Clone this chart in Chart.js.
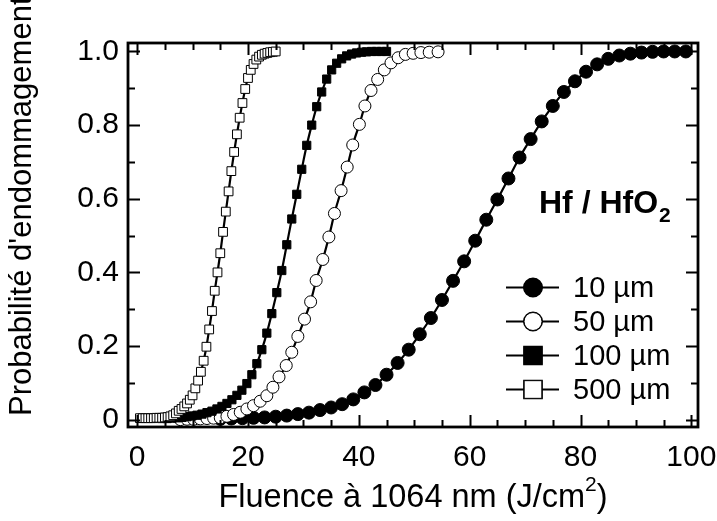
<!DOCTYPE html>
<html>
<head>
<meta charset="utf-8">
<script src="https://cdn.jsdelivr.net/npm/chart.js@4.4.1/dist/chart.umd.min.js"></script>
<style>
  html, body { margin: 0; padding: 0; background: #fff; }
  #wrap { width: 717px; height: 521px; }
</style>
</head>
<body>
<div id="wrap"><canvas id="damageChart" width="717" height="521"></canvas></div>
<script>
// series (fluence in J/cm2, damage probability)
const seriesLabels = ['10 µm', '50 µm', '100 µm', '500 µm'];

const fluence10 = [15, 17, 19, 21, 23, 25, 27, 29, 31, 33, 35, 37, 39, 41, 43, 45, 47, 49, 51, 53, 55, 57, 59, 61, 63, 65, 67, 69, 71, 73, 75, 77, 79, 81, 83, 85, 87, 89, 91, 93, 95, 97, 99];
const prob10 = [0.002, 0.003, 0.004, 0.005, 0.006, 0.008, 0.011, 0.015, 0.019, 0.026, 0.033, 0.042, 0.055, 0.074, 0.094, 0.122, 0.154, 0.190, 0.232, 0.276, 0.325, 0.377, 0.430, 0.486, 0.543, 0.598, 0.655, 0.712, 0.762, 0.810, 0.852, 0.890, 0.919, 0.945, 0.965, 0.980, 0.989, 0.994, 0.997, 0.999, 1.000, 1.000, 1.000];

const fluence50 = [7.8, 9.0, 10.2, 11.4, 12.6, 13.8, 15.0, 16.2, 17.4, 18.6, 19.8, 21.0, 22.2, 23.4, 24.5, 25.6, 26.9, 27.9, 29.0, 30.2, 31.3, 32.3, 33.5, 34.6, 35.6, 36.8, 37.9, 38.9, 40.1, 41.1, 42.2, 43.4, 44.6, 45.8, 47.1, 48.4, 49.8, 51.2, 52.7, 54.3];
const prob50 = [0.000, 0.001, 0.001, 0.002, 0.003, 0.004, 0.005, 0.009, 0.014, 0.020, 0.029, 0.038, 0.050, 0.065, 0.088, 0.116, 0.147, 0.183, 0.226, 0.273, 0.320, 0.378, 0.435, 0.496, 0.560, 0.622, 0.686, 0.746, 0.802, 0.852, 0.894, 0.924, 0.950, 0.969, 0.983, 0.992, 0.995, 0.997, 0.998, 0.999];

const fluence100 = [4.5, 5.4, 6.3, 7.2, 8.1, 9.0, 9.9, 10.8, 11.7, 12.6, 13.5, 14.4, 15.3, 16.2, 17.1, 18.0, 18.9, 19.8, 20.7, 21.6, 22.5, 23.4, 24.3, 25.2, 26.1, 27.0, 27.9, 28.8, 29.7, 30.6, 31.5, 32.4, 33.3, 34.2, 35.1, 36.0, 36.9, 37.8, 38.7, 39.6, 40.5, 41.4, 42.3, 43.2, 44.1, 45.0];
const prob100 = [0.003, 0.003, 0.004, 0.005, 0.006, 0.008, 0.010, 0.012, 0.015, 0.019, 0.023, 0.029, 0.036, 0.044, 0.054, 0.066, 0.080, 0.098, 0.122, 0.152, 0.190, 0.235, 0.288, 0.345, 0.405, 0.475, 0.545, 0.612, 0.680, 0.745, 0.800, 0.850, 0.890, 0.925, 0.950, 0.968, 0.980, 0.988, 0.993, 0.996, 0.998, 0.999, 1.000, 1.000, 1.000, 1.000];

const fluence500 = [0.5, 1.0, 1.5, 2.0, 2.5, 3.0, 3.5, 4.0, 4.5, 5.0, 5.5, 6.0, 6.5, 7.0, 7.5, 8.0, 8.5, 9.0, 9.5, 10.0, 10.5, 11.0, 11.5, 12.0, 12.5, 13.0, 13.5, 14.0, 14.5, 15.0, 15.5, 16.0, 16.5, 17.0, 17.5, 18.0, 18.5, 19.0, 19.5, 20.0, 20.5, 21.0, 21.5, 22.0, 22.5, 23.0, 23.5, 24.0, 24.5, 25.0];
const prob500 = [0.004, 0.004, 0.004, 0.004, 0.004, 0.004, 0.005, 0.005, 0.005, 0.006, 0.007, 0.009, 0.012, 0.017, 0.024, 0.029, 0.036, 0.044, 0.054, 0.066, 0.085, 0.106, 0.130, 0.160, 0.198, 0.245, 0.295, 0.350, 0.400, 0.452, 0.510, 0.565, 0.620, 0.675, 0.727, 0.775, 0.820, 0.860, 0.898, 0.928, 0.950, 0.966, 0.978, 0.986, 0.991, 0.994, 0.996, 0.998, 0.999, 1.000];

const xTickValues = [0, 20, 40, 60, 80, 100];
const xTickLabels = ['0', '20', '40', '60', '80', '100'];
const yTickValues = [0, 0.2, 0.4, 0.6, 0.8, 1.0];
const yTickLabels = ['0', '0.2', '0.4', '0.6', '0.8', '1.0'];

const FONT = '"Liberation Sans", Arial, Helvetica, sans-serif';

function pairs(xs, ys) {
  return xs.map((x, i) => ({ x: x, y: ys[i] }));
}

// marker styles per series (legend uses bigger copies)
const styles = [
  { pointStyle: 'circle', radius: 6.5, fill: '#000', legendRadius: 9 },
  { pointStyle: 'circle', radius: 6, fill: '#fff', legendRadius: 9 },
  { pointStyle: 'rect', radius: 5.8, fill: '#000', legendRadius: 12.5 },
  { pointStyle: 'rect', radius: 6.2, fill: '#fff', legendRadius: 12.5 }
];
const seriesData = [
  pairs(fluence10, prob10),
  pairs(fluence50, prob50),
  pairs(fluence100, prob100),
  pairs(fluence500, prob500)
];
const drawOrder = [3, 2, 1, 0]; // 500 µm on top

const datasets = seriesLabels.map((label, i) => ({
  label: label,
  data: seriesData[i],
  showLine: true,
  borderColor: '#000',
  borderWidth: 2.2,
  cubicInterpolationMode: 'monotone',
  pointStyle: styles[i].pointStyle,
  pointRadius: styles[i].radius,
  pointBackgroundColor: styles[i].fill,
  pointBorderColor: '#000',
  pointBorderWidth: 1,
  order: drawOrder[i]
}));

// frame with inward ticks on all four sides
const frameTicks = {
  id: 'frameTicks',
  afterDatasetsDraw(chart) {
    const ctx = chart.ctx;
    const a = chart.chartArea;
    const xs = chart.scales.x;
    const ys = chart.scales.y;
    ctx.save();
    ctx.strokeStyle = '#000';
    ctx.lineWidth = 2;
    ctx.beginPath();
    for (let v = 0; v <= 100; v += 5) {
      const px = Math.round(xs.getPixelForValue(v)) + 0.5;
      const len = v % 20 === 0 ? 12 : 7;
      ctx.moveTo(px, a.bottom); ctx.lineTo(px, a.bottom - len);
      ctx.moveTo(px, a.top); ctx.lineTo(px, a.top + len);
    }
    for (let k = 0; k <= 10; k++) {
      const py = Math.round(ys.getPixelForValue(k / 10)) + 0.5;
      const len = k % 2 === 0 ? 12 : 7;
      ctx.moveTo(a.left, py); ctx.lineTo(a.left + len, py);
      ctx.moveTo(a.right, py); ctx.lineTo(a.right - len, py);
    }
    ctx.stroke();
    ctx.lineWidth = 2.8;
    ctx.strokeRect(a.left, a.top, a.right - a.left, a.bottom - a.top);
    ctx.restore();
  }
};

// axis titles, material label and legend
const annotations = {
  id: 'annotations',
  afterDraw(chart) {
    const ctx = chart.ctx;
    const a = chart.chartArea;
    ctx.save();
    ctx.fillStyle = '#000';
    ctx.textBaseline = 'alphabetic';

    // x title with superscript
    const main = 'Fluence à 1064 nm (J/cm';
    ctx.font = '32.5px ' + FONT;
    const w1 = ctx.measureText(main).width;
    const w3 = ctx.measureText(')').width;
    ctx.font = '21px ' + FONT;
    const w2 = ctx.measureText('2').width;
    let x = (a.left + a.right) / 2 - (w1 + w2 + w3) / 2;
    const base = 507;
    ctx.font = '32.5px ' + FONT;
    ctx.textAlign = 'left';
    ctx.fillText(main, x, base);
    ctx.font = '21px ' + FONT;
    ctx.fillText('2', x + w1, base - 16);
    ctx.font = '32.5px ' + FONT;
    ctx.fillText(')', x + w1 + w2, base);

    // y title
    ctx.save();
    ctx.translate(31, 416);
    ctx.rotate(-Math.PI / 2);
    ctx.font = '31px ' + FONT;
    ctx.textAlign = 'left';
    ctx.fillText("Probabilité d'endommagement", 0, 0);
    ctx.restore();

    // material label
    ctx.font = 'bold 32px ' + FONT;
    ctx.textAlign = 'left';
    const hf = 'Hf / HfO';
    ctx.fillText(hf, 539, 213);
    const hw = ctx.measureText(hf).width;
    ctx.font = 'bold 21px ' + FONT;
    ctx.fillText('2', 539 + hw + 1, 222);

    // legend
    chart.data.datasets.forEach((ds, i) => {
      const cy = 287.5 + i * 34;
      ctx.strokeStyle = '#000';
      ctx.lineWidth = 2;
      ctx.beginPath();
      ctx.moveTo(506, cy);
      ctx.lineTo(559, cy);
      ctx.stroke();
      Chart.helpers.drawPoint(ctx, {
        pointStyle: ds.pointStyle,
        radius: styles[i].legendRadius,
        borderWidth: 1,
        rotation: 0
      }, 533, cy);
      ctx.fillStyle = styles[i].fill;
      ctx.strokeStyle = '#000';
      ctx.lineWidth = 1;
      ctx.fill();
      ctx.stroke();
      ctx.fillStyle = '#000';
      ctx.font = '29px ' + FONT;
      ctx.textAlign = 'left';
      ctx.textBaseline = 'middle';
      ctx.fillText(ds.label, 573, cy + 1);
      ctx.textBaseline = 'alphabetic';
    });
    ctx.restore();
  }
};

new Chart(document.getElementById('damageChart'), {
  type: 'scatter',
  data: { datasets: datasets },
  options: {
    responsive: false,
    animation: false,
    devicePixelRatio: 1,
    layout: { padding: { top: 43, right: 19, left: 0, bottom: 0 } },
    plugins: {
      legend: { display: false },
      tooltip: { enabled: false }
    },
    scales: {
      x: {
        type: 'linear',
        min: -1.65,
        max: 101.2,
        grid: { display: false, drawTicks: false },
        border: { display: false },
        afterBuildTicks: (scale) => { scale.ticks = xTickValues.map(v => ({ value: v })); },
        afterFit: (scale) => { scale.height = 94; scale.paddingLeft = 0; scale.paddingRight = 0; },
        ticks: {
          padding: 13,
          maxRotation: 0,
          autoSkip: false,
          color: '#000',
          font: { family: FONT, size: 30 },
          callback: (v, i) => xTickLabels[i]
        }
      },
      y: {
        type: 'linear',
        min: -0.02,
        max: 1.023,
        grid: { display: false, drawTicks: false },
        border: { display: false },
        afterBuildTicks: (scale) => { scale.ticks = yTickValues.map(v => ({ value: v })); },
        afterFit: (scale) => { scale.width = 128; scale.paddingTop = 0; scale.paddingBottom = 0; },
        ticks: {
          padding: 9,
          autoSkip: false,
          color: '#000',
          font: { family: FONT, size: 30 },
          callback: (v, i) => yTickLabels[i]
        }
      }
    }
  },
  plugins: [frameTicks, annotations]
});
</script>
</body>
</html>
